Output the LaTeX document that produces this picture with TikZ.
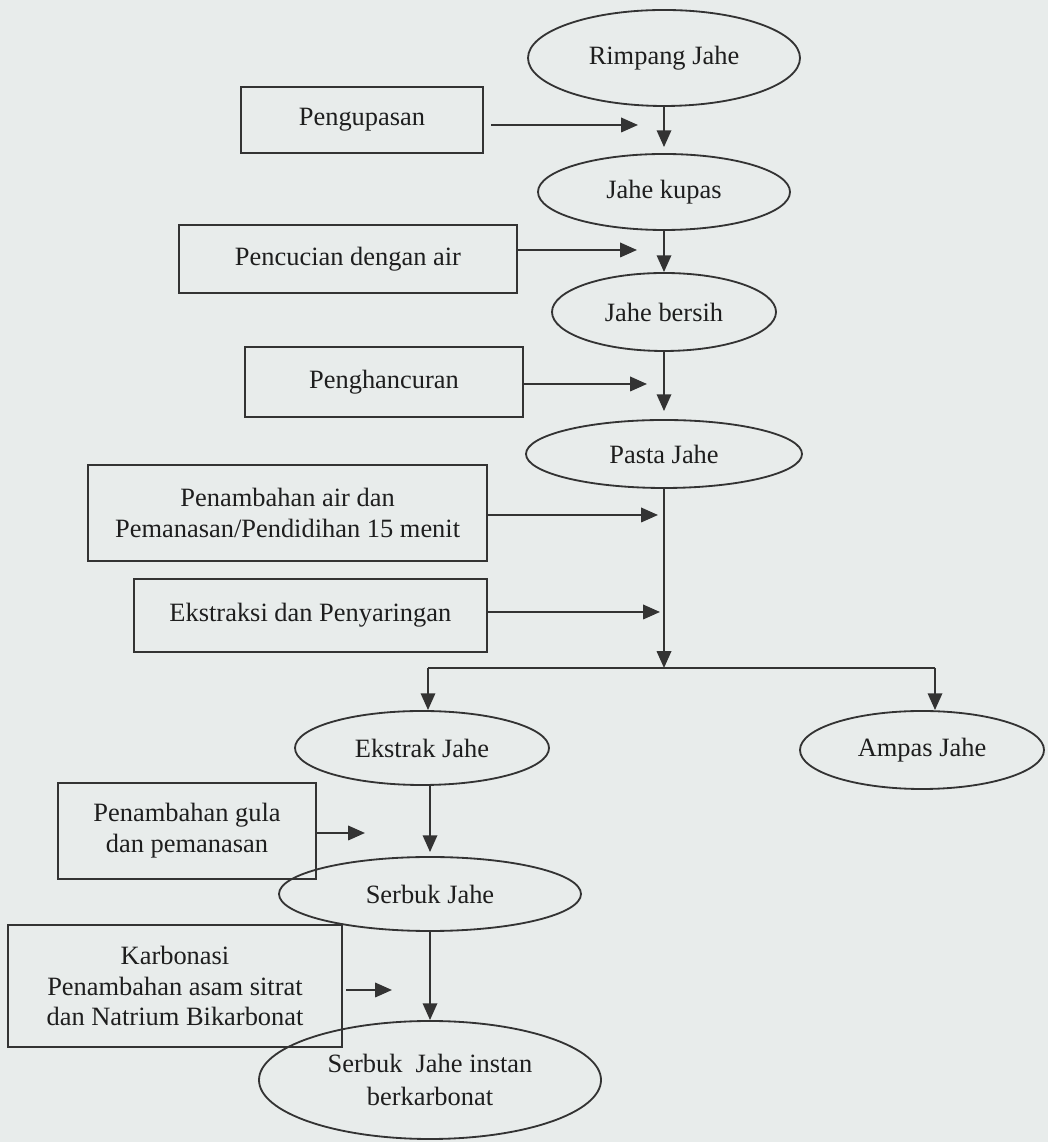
\documentclass[tikz,border=0pt]{standalone}
\usepackage{fontspec}
\setmainfont{Liberation Serif}
\usetikzlibrary{arrows.meta,shapes.geometric}
\definecolor{paper}{HTML}{E8ECEB}
\definecolor{ink}{HTML}{1E1E1E}
\definecolor{rule}{HTML}{333333}
\tikzset{
  procbox/.style={draw=rule, line width=1.5pt, rectangle, align=center,
              inner sep=4pt, text=ink, font=\fontsize{18.8}{22}\selectfont},
  stagenode/.style={draw=rule, line width=1.3pt, ellipse, align=center,
              inner sep=0pt, text=ink, font=\fontsize{18.8}{23}\selectfont},
  ar/.style={-{Triangle[length=0.42cm,width=0.36cm]}, line width=1.5pt, draw=rule},
  ln/.style={line width=1.5pt, draw=rule}
}

\begin{document}
\begin{tikzpicture}[x=1cm,y=1cm]
  \useasboundingbox[fill=paper] (0,0) rectangle (26.2,28.55);

  \node[stagenode, minimum width=6.8cm, minimum height=2.4cm] (rimpang) at (16.6,27.1) {Rimpang Jahe};
  \node[stagenode, minimum width=6.3cm, minimum height=1.9cm] (kupas) at (16.6,23.75) {Jahe kupas};
  \node[stagenode, minimum width=5.6cm, minimum height=1.95cm] (bersih) at (16.6,20.75) {Jahe bersih};
  \node[stagenode, minimum width=6.9cm, minimum height=1.7cm] (pasta) at (16.6,17.2) {Pasta Jahe};
  \node[stagenode, minimum width=6.35cm, minimum height=1.85cm] (ekstrak) at (10.55,9.85) {Ekstrak Jahe};
  \node[stagenode, minimum width=6.1cm, minimum height=1.95cm] (ampas) at (23.05,9.8) {Ampas Jahe};
  \node[stagenode, minimum width=7.55cm, minimum height=1.85cm] (serbuk) at (10.75,6.2) {Serbuk Jahe};
  \node[stagenode, minimum width=8.55cm, minimum height=2.95cm] (instan) at (10.75,1.55) {Serbuk~~Jahe instan\\berkarbonat};

  \node[procbox, minimum width=6.05cm, minimum height=1.65cm] (kupasan) at (9.05,25.55) {Pengupasan};
  \node[procbox, minimum width=8.45cm, minimum height=1.7cm] (cuci) at (8.7,22.075) {Pencucian dengan air};
  \node[procbox, minimum width=6.95cm, minimum height=1.75cm] (hancur) at (9.6,19.0) {Penghancuran};
  \node[procbox, minimum width=9.975cm, minimum height=2.4cm] (didih) at (7.19,15.725) {Penambahan air dan\\Pemanasan/Pendidihan 15 menit};
  \node[procbox, minimum width=8.825cm, minimum height=1.825cm] (saring) at (7.76,13.16) {Ekstraksi dan Penyaringan};
  \node[procbox, minimum width=6.45cm, minimum height=2.4cm] (gula) at (4.675,7.775) {Penambahan gula\\dan pemanasan};
  \node[procbox, minimum width=8.35cm, minimum height=3.05cm] (karbon) at (4.375,3.9) {Karbonasi\\Penambahan asam sitrat\\dan Natrium Bikarbonat};

  \coordinate (tKupas) at (15.95,25.425);
  \coordinate (tCuci) at (15.925,22.3);
  \coordinate (tHancur) at (16.175,18.95);
  \coordinate (tDidih) at (16.45,15.675);
  \coordinate (tSaring) at (16.5,13.25);
  \coordinate (split) at (16.6,11.85);
  \coordinate (splitL) at (10.7,11.85);
  \coordinate (splitR) at (23.375,11.85);
  \coordinate (tGula) at (9.125,7.725);
  \coordinate (tKarbon) at (9.8,3.8);

  \draw[ar, shorten >=0.15cm] (rimpang) -- (kupas);
  \draw[ar] (kupas) -- (bersih);
  \draw[ar, shorten >=0.2cm] (bersih) -- (pasta);
  \draw[ar] (pasta) -- (split);
  \draw[ln] (splitL) -- (splitR);
  \draw[ar] (splitL) -- (splitL |- ekstrak.north);
  \draw[ar] (splitR) -- (splitR |- ampas.north);
  \draw[ar, shorten >=0.1cm] (ekstrak.south -| serbuk) -- (serbuk);
  \draw[ar] (serbuk) -- (instan);

  \draw[ar, shorten <=0.18cm] (kupasan.east |- tKupas) -- (tKupas);
  \draw[ar] (cuci.east |- tCuci) -- (tCuci);
  \draw[ar] (hancur.east |- tHancur) -- (tHancur);
  \draw[ar] (didih.east |- tDidih) -- (tDidih);
  \draw[ar] (saring.east |- tSaring) -- (tSaring);
  \draw[ar] (gula.east |- tGula) -- (tGula);
  \draw[ar, shorten <=0.08cm] (karbon.east |- tKarbon) -- (tKarbon);
\end{tikzpicture}
\end{document}
